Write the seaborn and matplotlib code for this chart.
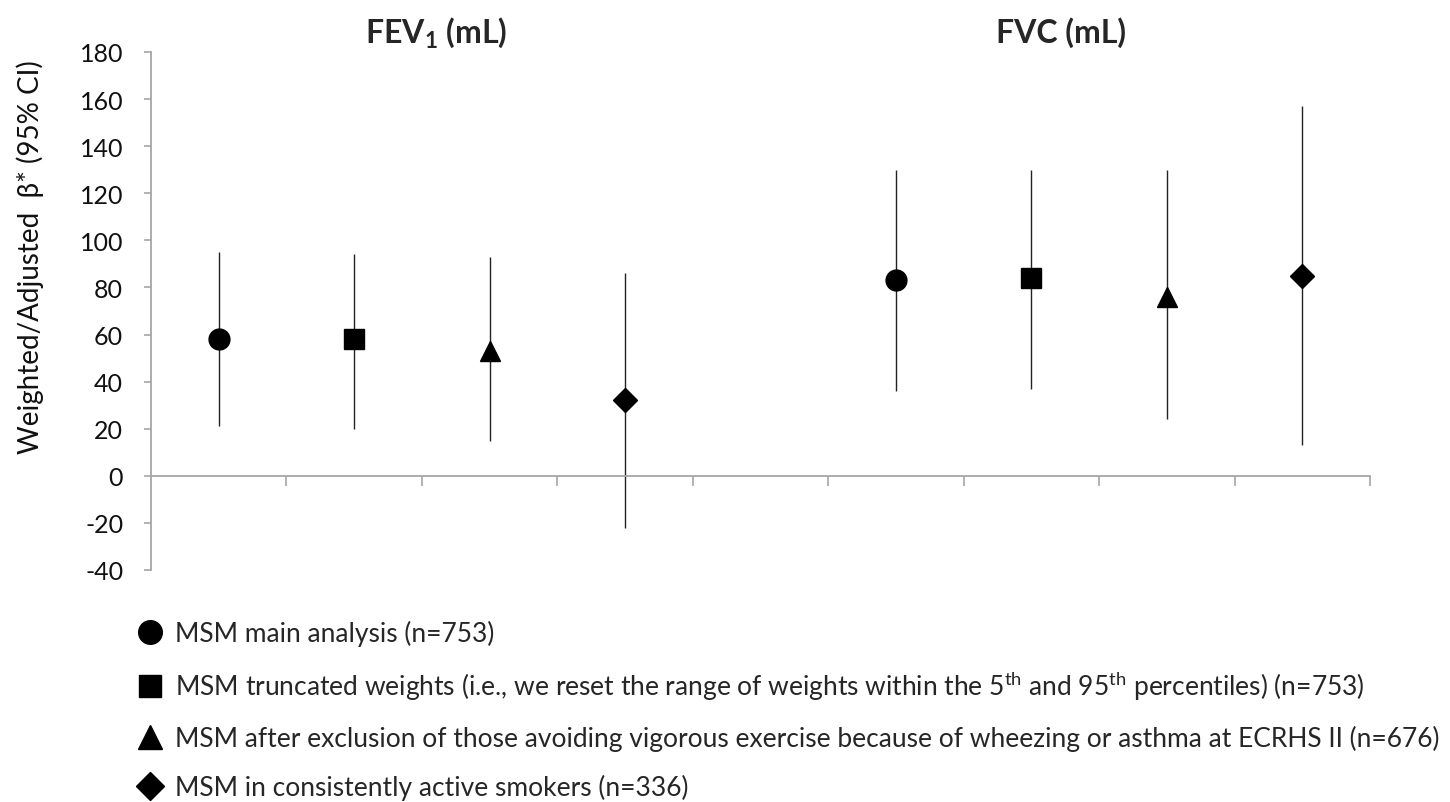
import matplotlib
matplotlib.use("Agg")
import matplotlib.pyplot as plt
from matplotlib.lines import Line2D
import seaborn as sns
import pandas as pd

# ---- data ----
slots = ["FEV1 main", "FEV1 trunc", "FEV1 excl", "FEV1 smokers", "",
         "FVC main", "FVC trunc", "FVC excl", "FVC smokers"]
analysis = ["main", "trunc", "excl", "smokers", None,
            "main", "trunc", "excl", "smokers"]
beta = [58, 58, 53, 32, None, 83, 84, 76, 85]
ci_low = [21, 20, 15, -22, None, 36, 37, 24, 13]
ci_high = [95, 94, 93, 86, None, 130, 130, 130, 157]
y_ticks = list(range(-40, 181, 20))
legend_labels = [
    "MSM main analysis (n=753)",
    "MSM truncated weights (i.e., we reset the range of weights within the 5$^{\\mathregular{th}}$ and 95$^{\\mathregular{th}}$ percentiles) (n=753)",
    "MSM after exclusion of those avoiding vigorous exercise because of wheezing or asthma at ECRHS II (n=676)",
    "MSM in consistently active smokers (n=336)",
]
analysis_order = ["main", "trunc", "excl", "smokers"]
markers = {"main": "o", "trunc": "s", "excl": "^", "smokers": "D"}
sizes = {"main": 15, "trunc": 14, "excl": 15, "smokers": 12}

sns.set_theme(style="white")
plt.rcParams['font.family'] = ['Lato', 'DejaVu Sans']
plt.rcParams['mathtext.fontset'] = 'custom'
plt.rcParams['mathtext.rm'] = 'Lato'
plt.rcParams['mathtext.bf'] = 'Lato:bold'

df = pd.DataFrame({"slot": slots, "analysis": analysis, "beta": beta,
                   "lo": ci_low, "hi": ci_high})
df["x"] = range(len(slots))
d = df.dropna().copy()

fig = plt.figure(figsize=(14.5, 8.03), dpi=100)
ax = fig.add_axes([151/1450, 1-571/803, (1370-151)/1450, (571-53)/803])

ax.vlines(d["x"], d["lo"], d["hi"], color="#222222", lw=1.0, zorder=1)
for a in analysis_order:
    sub = d[d["analysis"] == a]
    ax.plot(sub["x"], sub["beta"], linestyle="none", marker=markers[a],
            markersize=sizes[a], color="black", zorder=3)

ax.set_xlim(-0.5, len(slots) - 0.5)
ax.set_ylim(-40, 180)
ax.set_yticks(y_ticks)
ax.set_yticklabels([str(t) for t in y_ticks], fontsize=18, color="#111111")
ax.set_xticks([i + 0.5 for i in range(len(slots))])
ax.set_xticklabels([])
ax.spines['bottom'].set_position(('data', 0))
for s in ['top', 'right']:
    ax.spines[s].set_visible(False)
for s in ['left', 'bottom']:
    ax.spines[s].set_color("#a6a6a6")
    ax.spines[s].set_linewidth(1.3)
ax.tick_params(axis='y', direction='out', length=5, width=1.2, color="#a6a6a6", pad=15, left=True)
ax.tick_params(axis='x', direction='out', length=7, width=1.2, color="#a6a6a6", bottom=True)
ax.set_ylabel("Weighted/Adjusted  β* (95% CI)", fontsize=20, color="#111111")
ax.yaxis.set_label_coords((44-151)/1219, (571-257)/518)
ax.set_xlabel("")

fig.text(436/1450, 1-33/803, "FEV$_\\mathbf{1}$ (mL)", fontsize=23, fontweight="bold",
         ha="center", va="center")
fig.text(1061/1450, 1-33/803, "FVC (mL)", fontsize=23, fontweight="bold",
         ha="center", va="center")

handles = [Line2D([], [], linestyle="none", marker=markers[a], markersize=sizes[a] + 2,
                  color="black") for a in analysis_order]
fig.legend(handles, legend_labels, loc="upper left", bbox_to_anchor=(137/1450, 1-621/803),
           frameon=False, fontsize=19, labelspacing=0.86, handletextpad=0.45,
           handlelength=1.0, borderpad=0, borderaxespad=0)

fig.savefig("out.png", dpi=100)
